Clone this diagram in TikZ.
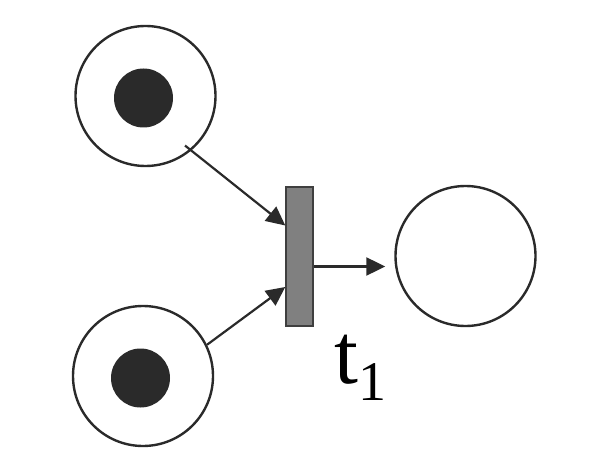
\documentclass[tikz,border=0pt]{standalone}
\usepackage{fontspec}
\setmainfont{Liberation Serif}
\usetikzlibrary{arrows.meta}
\definecolor{ink}{HTML}{2A2A2A}
\begin{document}
\begin{tikzpicture}[x=1pt,y=1pt,
	place/.style={circle,draw=ink,line width=2.4pt,minimum size=140pt,inner sep=0pt},
	token/.style={circle,fill=ink,minimum size=59pt,inner sep=0pt},
	trans/.style={rectangle,draw=ink!90,fill=black!50,line width=1.4pt,minimum width=27pt,minimum height=139pt,inner sep=0pt},
	arc/.style={draw=ink,line width=2.2pt,-{Triangle[length=19pt,width=18pt]}}]
	
	\useasboundingbox (0,0) rectangle (602,472);
	
	% Places
	\node[place] (p1) at (145.5,376) {};
	\node[place] (p2) at (143,96) {};
	\node[place] (p3) at (465.5,216) {};
	
	% Tokens
	\node[token] (m1) at (143.5,374) {};
	\node[token] (m2) at (140.5,94) {};
	
	% Transition
	\node[trans] (t1) at (299.5,215.5) {};
	\node[anchor=base west,inner sep=0pt] (l1) at (334.5,89)
	{\fontsize{86}{86}\selectfont t\raisebox{-17pt}{\fontsize{56}{56}\selectfont 1}};
	
	% Arcs
	\draw[arc,shorten <=-8pt] (p1.-50) -- ([yshift=31pt]t1.west);
	\draw[arc] (p2.26) -- ([yshift=-30.5pt]t1.west);
	\draw[arc,shorten >=9pt] ([yshift=-10pt]t1.east) -- ([yshift=-10pt]t1.east -| p3.west);
	
\end{tikzpicture}
\end{document}
